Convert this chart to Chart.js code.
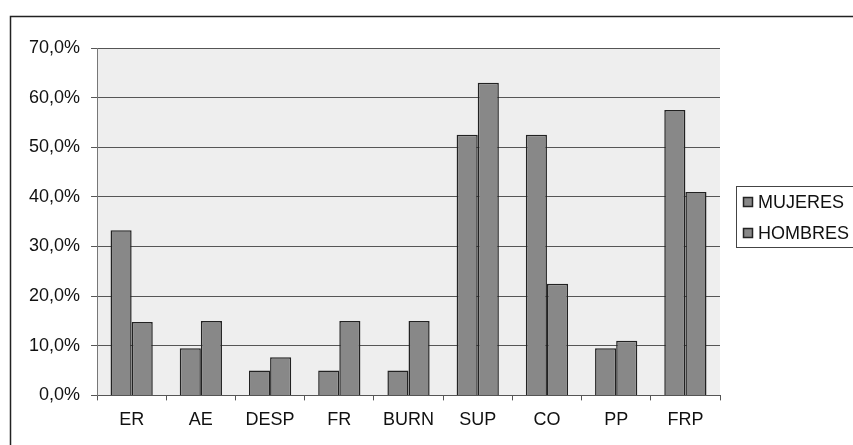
<!DOCTYPE html>
<html>
<head>
<meta charset="utf-8">
<script src="https://cdn.jsdelivr.net/npm/chart.js@4/dist/chart.umd.min.js"></script>
<style>
  html, body { margin: 0; padding: 0; background: #fff; }
  #wrap { width: 853px; height: 445px; position: relative; }
</style>
</head>
<body>
<div id="wrap"><canvas id="chart" width="853" height="445"></canvas></div>
<script>
var categories = ["ER", "AE", "DESP", "FR", "BURN", "SUP", "CO", "PP", "FRP"];
var mujeres = [33.3, 9.5, 5.0, 5.0, 5.0, 52.5, 52.5, 9.5, 57.5];
var hombres = [14.8, 15.0, 7.7, 15.0, 15.0, 63.0, 22.5, 11.0, 41.0];
var seriesNames = ["MUJERES", "HOMBRES"];

var fontFamily = "'Liberation Sans', Arial, sans-serif";

// plot background + outer frame + legend box
var framePlugin = {
	id: 'frame',
	beforeDraw: function (chart) {
		var ctx = chart.ctx, a = chart.chartArea;
		ctx.save();
		ctx.fillStyle = "#ffffff";
		ctx.fillRect(0, 0, chart.width, chart.height);
		ctx.fillStyle = "#eeeeee";
		ctx.fillRect(a.left, a.top, a.right - a.left, a.bottom - a.top);
		ctx.strokeStyle = "#222";
		ctx.lineWidth = 1.5;
		ctx.strokeRect(10.5, 16.5, 1000, 600);
		ctx.restore();
	},
	afterDraw: function (chart) {
		var ctx = chart.ctx;
		var x = 736, y = 186;
		ctx.save();
		ctx.fillStyle = "#fff";
		ctx.fillRect(x, y, 140, 61);
		ctx.strokeStyle = "#444";
		ctx.lineWidth = 1;
		ctx.strokeRect(x + 0.5, y + 0.5, 140, 61);
		ctx.font = "18px " + fontFamily;
		ctx.textBaseline = "middle";
		for (var i = 0; i < seriesNames.length; i++) {
			var cy = y + 16 + i * 31;
			ctx.fillStyle = "#888";
			ctx.fillRect(x + 7, cy - 5, 10, 10);
			ctx.lineWidth = 1.5;
			ctx.strokeStyle = "#222";
			ctx.strokeRect(x + 7.5, cy - 4.5, 9, 9);
			ctx.fillStyle = "#111";
			ctx.fillText(seriesNames[i], x + 22, cy + 1);
		}
		ctx.restore();
	}
};

var ctx = document.getElementById("chart").getContext('2d');
var barChart = new Chart(ctx, {
	type: 'bar',
	data: {
		labels: categories,
		datasets: [
			{
				label: seriesNames[0],
				data: mujeres,
				backgroundColor: "#888888",
				borderColor: "#222222",
				borderWidth: 1.5,
				categoryPercentage: 0.61,
				barPercentage: 1.0
			},
			{
				label: seriesNames[1],
				data: hombres,
				backgroundColor: "#888888",
				borderColor: "#222222",
				borderWidth: 1.5,
				categoryPercentage: 0.61,
				barPercentage: 1.0
			}
		]
	},
	options: {
		responsive: false,
		animation: false,
		layout: { padding: { left: 18, top: 48, right: 133, bottom: 5 } },
		plugins: {
			legend: { display: false },
			tooltip: { enabled: false }
		},
		scales: {
			x: {
				grid: { display: true, drawOnChartArea: false, drawTicks: true, tickLength: 5, offset: true, color: "#555" },
				border: { color: "#555", width: 1 },
				ticks: {
					color: "#111",
					padding: 9,
					font: { family: fontFamily, size: 18 }
				}
			},
			y: {
				min: 0,
				max: 70,
				grid: { color: "#555", lineWidth: 1, tickLength: 6 },
				border: { color: "#777", width: 1 },
				ticks: {
					stepSize: 10,
					color: "#111",
					padding: 11,
					font: { family: fontFamily, size: 18 },
					callback: function (v) { return v.toFixed(1).replace('.', ',') + '%'; }
				}
			}
		}
	},
	plugins: [framePlugin]
});
</script>
</body>
</html>
